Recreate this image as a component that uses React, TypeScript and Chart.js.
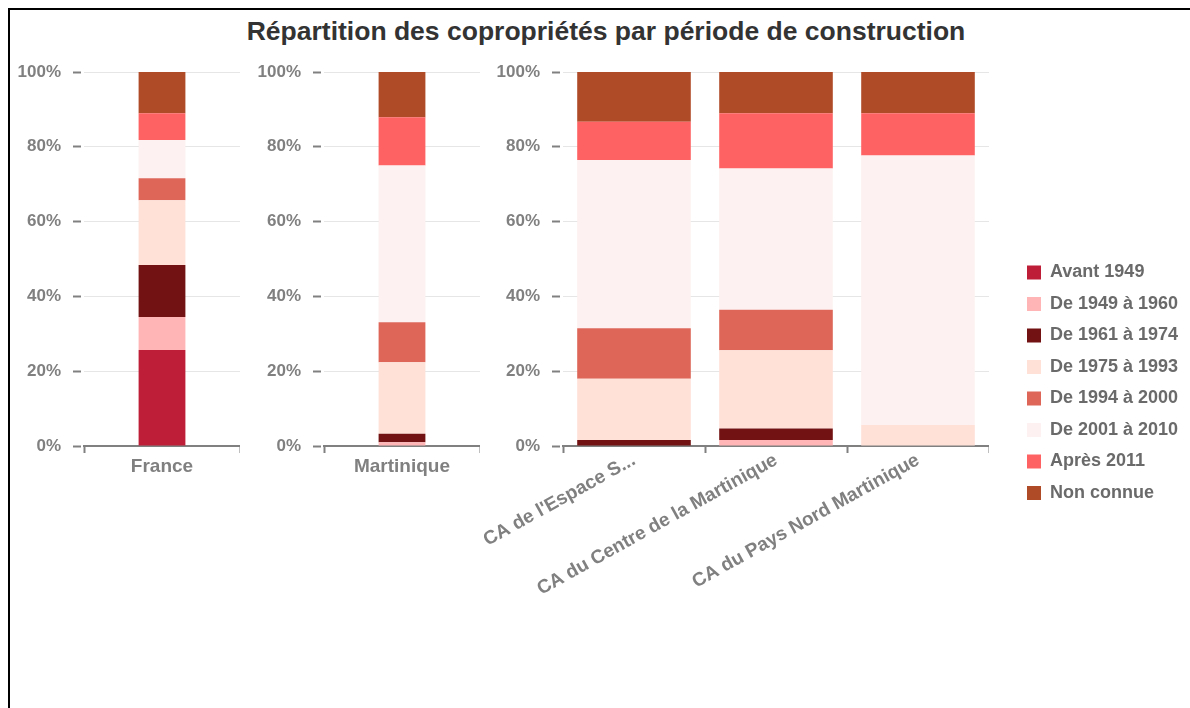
import React, { useEffect, useRef } from 'react';
import { Chart, registerables } from 'chart.js';

Chart.register(...registerables);

const FONT = "'Liberation Sans', Arial, Helvetica, sans-serif";

const chartTitle = 'Répartition des copropriétés par période de construction';

// Categories (France, Martinique, then the three communautés d'agglomération)
const regions = [
  'France',
  'Martinique',
  "CA de l'Espace S...",
  'CA du Centre de la Martinique',
  'CA du Pays Nord Martinique',
];

const periods = [
  'Avant 1949',
  'De 1949 à 1960',
  'De 1961 à 1974',
  'De 1975 à 1993',
  'De 1994 à 2000',
  'De 2001 à 2010',
  'Après 2011',
  'Non connue',
];

// Shares (%) per period, in the order of `regions`
const avant1949 = [25.7, 0, 0, 0, 0];
const de1949a1960 = [8.8, 1.0, 0, 1.6, 0];
const de1961a1974 = [13.9, 2.3, 1.6, 3.1, 0];
const de1975a1993 = [17.3, 19.1, 16.4, 20.9, 5.6];
const de1994a2000 = [5.9, 10.7, 13.5, 10.8, 0];
const de2001a2010 = [10.2, 41.9, 45.0, 37.8, 72.1];
const apres2011 = [7.2, 12.9, 10.2, 14.8, 11.3];
const nonConnue = [11.0, 12.1, 13.3, 11.0, 11.0];

const periodValues = [
  avant1949,
  de1949a1960,
  de1961a1974,
  de1975a1993,
  de1994a2000,
  de2001a2010,
  apres2011,
  nonConnue,
];

const periodColors = [
  '#BE1E37',
  '#FFB5B5',
  '#731212',
  '#FFE1D8',
  '#DE6658',
  '#FDF1F1',
  '#FF6262',
  '#B04B28',
];

const AXIS_GREY = '#808080';
const GRID_GREY = '#e6e6e6';

function buildDatasets(from: number, to: number) {
  return periods.map((label, i) => ({
    label,
    data: periodValues[i].slice(from, to),
    backgroundColor: periodColors[i],
    borderWidth: 0,
  }));
}

type PanelProps = {
  left: number;
  top: number;
  width: number;
  height: number;
  from: number;
  to: number;
  yWidth: number;
  xHeight: number;
  rotation: number;
  catPct: number;
  labelPad: number;
};

function Panel(p: PanelProps) {
  const ref = useRef<HTMLCanvasElement>(null);
  useEffect(() => {
    if (!ref.current) return;
    const chart = new Chart(ref.current, {
      type: 'bar',
      data: { labels: regions.slice(p.from, p.to), datasets: buildDatasets(p.from, p.to) },
      options: {
        animation: false,
        responsive: false,
        maintainAspectRatio: false,
        layout: { padding: { top: 22, left: 0, right: 0, bottom: 0 } },
        datasets: { bar: { categoryPercentage: p.catPct, barPercentage: 1 } },
        plugins: {
          legend: { display: false },
          tooltip: { enabled: false },
          title: { display: false },
        },
        scales: {
          x: {
            stacked: true,
            grid: {
              display: true,
              offset: true,
              drawOnChartArea: false,
              drawTicks: true,
              tickLength: 7,
              tickColor: AXIS_GREY,
              tickWidth: 2,
            },
            border: { display: true, color: AXIS_GREY, width: 2 },
            ticks: {
              autoSkip: false,
              minRotation: p.rotation,
              maxRotation: p.rotation,
              padding: p.labelPad,
              color: AXIS_GREY,
              font: { family: FONT, size: 19, weight: 'bold' },
            },
            afterFit: (s: any) => {
              s.height = p.xHeight;
              s.paddingLeft = 0;
              s.paddingRight = 0;
            },
          },
          y: {
            stacked: true,
            min: 0,
            max: 100,
            ticks: {
              stepSize: 20,
              padding: 12,
              color: AXIS_GREY,
              font: { family: FONT, size: 17, weight: 'bold' },
              callback: (v: any) => v + '%',
            },
            grid: {
              color: GRID_GREY,
              lineWidth: 1,
              drawTicks: true,
              tickLength: 11,
              tickColor: AXIS_GREY,
              tickWidth: 2,
              tickBorderDash: [8, 20],
            },
            border: { display: false },
            afterFit: (s: any) => {
              s.width = p.yWidth;
              s.paddingTop = 0;
              s.paddingBottom = 0;
            },
          },
        },
      } as any,
    });
    return () => chart.destroy();
  }, []);
  return (
    <canvas
      ref={ref}
      width={p.width}
      height={p.height}
      style={{ position: 'absolute', left: p.left, top: p.top, width: p.width, height: p.height }}
    />
  );
}

function Legend() {
  const ref = useRef<HTMLCanvasElement>(null);
  useEffect(() => {
    if (!ref.current) return;
    const chart = new Chart(ref.current, {
      type: 'bar',
      data: {
        labels: [],
        datasets: periods.map((label, i) => ({
          label,
          data: [],
          backgroundColor: periodColors[i],
          borderWidth: 0,
        })),
      },
      options: {
        animation: false,
        responsive: false,
        maintainAspectRatio: false,
        layout: { padding: { left: 13.5, top: 8, right: 0, bottom: 0 } },
        scales: { x: { display: false }, y: { display: false } },
        plugins: {
          tooltip: { enabled: false },
          legend: {
            display: true,
            position: 'chartArea',
            align: 'start',
            labels: {
              boxWidth: 14,
              boxHeight: 14,
              padding: 13.5,
              color: '#6a6a6a',
              font: { family: FONT, size: 18, weight: 'bold' },
            },
          },
        },
      } as any,
    });
    return () => chart.destroy();
  }, []);
  return (
    <canvas
      ref={ref}
      width={190}
      height={290}
      style={{ position: 'absolute', left: 1000, top: 250, width: 190, height: 290 }}
    />
  );
}

export default function App() {
  return (
    <div>
      <div
        style={{
          position: 'absolute',
          left: 8,
          top: 8,
          width: 1182,
          height: 700,
          boxSizing: 'border-box',
          borderLeft: '2px solid #000',
          borderTop: '2px solid #000',
        }}
      />
      <div
        style={{
          position: 'absolute',
          left: 606,
          top: 16,
          transform: 'translateX(-50%)',
          whiteSpace: 'nowrap',
          fontFamily: FONT,
          fontWeight: 'bold',
          fontSize: 26.5,
          lineHeight: '30px',
          color: '#333333',
        }}
      >
        {chartTitle}
      </div>
      <Panel left={10} top={50} width={230} height={446} from={0} to={1} yWidth={74} xHeight={50} rotation={0} catPct={0.3} labelPad={2} />
      <Panel left={250} top={50} width={230} height={446} from={1} to={2} yWidth={74} xHeight={50} rotation={0} catPct={0.3} labelPad={2} />
      <Panel left={440} top={50} width={549} height={596} from={2} to={5} yWidth={123} xHeight={200} rotation={29} catPct={0.8} labelPad={-4} />
      <Legend />
    </div>
  );
}
